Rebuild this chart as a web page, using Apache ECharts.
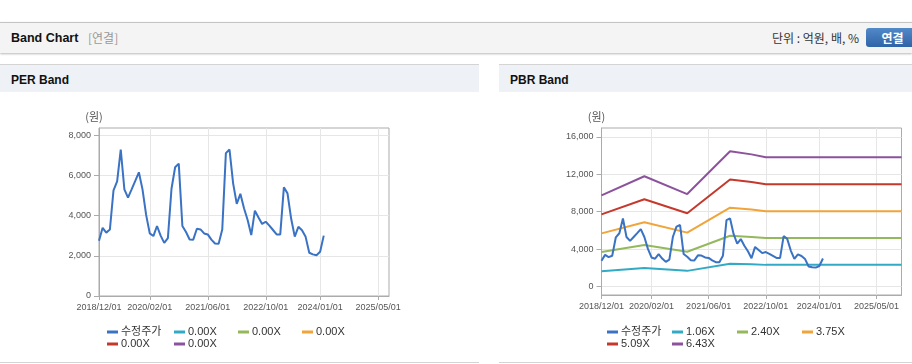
<!DOCTYPE html>
<html><head><meta charset="utf-8">
<script src="https://cdn.jsdelivr.net/npm/echarts@6/dist/echarts.min.js"></script>
<style>
html,body{margin:0;padding:0;width:912px;height:364px;overflow:hidden;background:#fff;font-family:"Liberation Sans","Noto Sans CJK KR",sans-serif;}
.abs{position:absolute;}
#topbar{left:0;top:22px;width:912px;height:30px;background:#f4f4f4;border-top:1px solid #c4c4c4;box-shadow:0 1px 2px rgba(0,0,0,0.28);}
#title{left:11px;top:0;line-height:30px;font-size:12.5px;font-weight:bold;color:#111;}
#sub{left:88px;top:0;line-height:30px;font-size:12px;color:#999;font-family:"Noto Sans CJK KR",sans-serif;}
#unit{right:53px;top:0;line-height:30px;font-size:12px;color:#333;font-family:"Noto Sans CJK KR",sans-serif;}
#btn{left:866px;top:5px;width:53px;height:19px;border-radius:3px;background:linear-gradient(#5289c9,#2f64a6);color:#fff;font-weight:bold;font-size:12px;line-height:19px;text-align:center;font-family:"Noto Sans CJK KR",sans-serif;}
.ph{top:64px;height:28px;background:#eef2f7;border-top:1px solid #d4d4d4;}
.ph span{position:absolute;left:11px;top:1px;line-height:28px;font-size:12px;font-weight:bold;color:#111;}
.pb{top:92px;height:270px;border-bottom:1px solid #d4d4d4;background:#fff;}
#chart{left:0;top:0;width:912px;height:364px;z-index:2;}
</style></head>
<body>
<div id="topbar" class="abs">
  <div id="title" class="abs">Band Chart</div>
  <div id="sub" class="abs">[연결]</div>
  <div id="unit" class="abs">단위 : 억원, 배, %</div>
  <div id="btn" class="abs">연결</div>
</div>
<div class="abs ph" style="left:0;width:479px;"><span>PER Band</span></div>
<div class="abs ph" style="left:499px;width:413px;"><span>PBR Band</span></div>
<div class="abs pb" style="left:0;width:479px;"></div>
<div class="abs pb" style="left:499px;width:413px;"></div>
<div id="chart" class="abs"></div>
<script>
// ---- data ----
const monthCount = 85;               // 2018/12 .. 2025/12
const perMonthCount = 81;            // 2018/12 .. 2025/08
const labelIndices = [0, 14, 30, 46, 61, 77];
const perTicks = [0, 2000, 4000, 6000, 8000];
const pbrTicks = [0, 4000, 8000, 12000, 16000];
// 수정주가, monthly from 2018/12/01
const priceValues = [2750,3390,3150,3300,5250,5700,7280,5300,4890,5300,
  5720,6150,5300,4030,3110,2980,3480,3000,2640,2880,
  5330,6400,6580,3480,3180,2810,2800,3340,3310,3110,
  3060,2800,2610,2600,3300,7100,7280,5600,4580,5080,
  4360,3780,3030,4240,3900,3580,3690,3500,3280,3060,
  3060,5400,5100,3850,2950,3440,3270,2940,2150,2070,
  2030,2200,3000];
const bandDates = ['2018/12/01','2019/12/01','2020/12/01','2021/12/01','2022/06/01','2022/10/01','2025/12/01'];
const band106 = [1650,1990,1680,2440,2380,2320,2320];
const band240 = [3700,4450,3720,5430,5300,5200,5200];
const band375 = [5690,6880,5770,8430,8240,8060,8060];
const band509 = [7720,9330,7830,11440,11180,10940,10940];
const band643 = [9750,11790,9890,14460,14130,13820,13820];
const perLabels = ['수정주가','0.00X','0.00X','0.00X','0.00X','0.00X'];
const pbrLabels = ['수정주가','1.06X','2.40X','3.75X','5.09X','6.43X'];
const colors = ['#3a72c4','#33aac4','#94b85c','#f0a43a','#c4392c','#8c539c'];

// ---- build ----
const months = [];
for (let i = 0; i < monthCount; i++) {
  const y = 2018 + Math.floor((11 + i) / 12);
  const m = (11 + i) % 12 + 1;
  months.push(y + '/' + String(m).padStart(2, '0') + '/01');
}
const perMonths = months.slice(0, perMonthCount);
const showIdx = (i) => labelIndices.indexOf(i) >= 0;
const axisGray = '#ababab';
const gridGray = '#e6e6e6';

function xAxis(gi, data) {
  return {
    type: 'category', gridIndex: gi, data: data, boundaryGap: false,
    axisLine: { onZero: false, lineStyle: { color: axisGray } },
    axisTick: { interval: showIdx, length: 4, lineStyle: { color: axisGray } },
    axisLabel: { interval: showIdx, fontSize: 9, color: '#555', margin: 7, fontFamily: 'Liberation Sans' },
    splitLine: { show: true, interval: showIdx, lineStyle: { color: gridGray } }
  };
}
function yAxis(gi, min, max, ticks) {
  return {
    type: 'value', gridIndex: gi, min: min, max: max,
    name: '(원)', nameLocation: 'end', nameGap: 6,
    nameTextStyle: { fontSize: 11, color: '#555', padding: [0, 10, 0, 0], fontFamily: 'Noto Sans CJK KR' },
    axisLine: { show: true, lineStyle: { color: axisGray } },
    axisTick: { show: true, length: 5, customValues: ticks, lineStyle: { color: axisGray } },
    axisLabel: { customValues: ticks, fontSize: 9, color: '#555', margin: 8, fontFamily: 'Liberation Sans' },
    splitLine: { show: true, lineStyle: { color: gridGray } }
  };
}
function lineSeries(id, xi, data, color) {
  return {
    type: 'line', name: id, xAxisIndex: xi, yAxisIndex: xi, data: data,
    showSymbol: false, symbol: 'none', connectNulls: true,
    lineStyle: { width: 2, color: color }, itemStyle: { color: color }, animation: false
  };
}
const bandArrays = [band106, band240, band375, band509, band643];
const series = [];
for (let k = 1; k <= 5; k++) series.push(lineSeries('per' + k, 0, [], colors[k]));
series.push(lineSeries('per0', 0, priceValues, colors[0]));
bandArrays.forEach((arr, j) => {
  series.push(lineSeries('pbr' + (j + 1), 1, bandDates.map((d, i) => [d, arr[i]]), colors[j + 1]));
});
series.push(lineSeries('pbr0', 1, priceValues, colors[0]));

const labelMap = {};
perLabels.forEach((t, i) => labelMap['per' + i] = t);
pbrLabels.forEach((t, i) => labelMap['pbr' + i] = t);

const legends = [];
const colX = [[107, 174, 238, 302], [607, 672, 737, 802]];
const rowY = [326, 338];
['per', 'pbr'].forEach((p, c) => {
  for (let i = 0; i < 6; i++) {
    legends.push({
      data: [p + i], left: colX[c][i % 4], top: rowY[Math.floor(i / 4)],
      icon: 'rect', itemWidth: 11, itemHeight: 3, itemGap: 0, padding: 0, selectedMode: false,
      formatter: (n) => labelMap[n],
      textStyle: { fontSize: 11, color: '#333', lineHeight: 12, padding: [0, 0, 0, -2], fontFamily: 'Liberation Sans, Noto Sans CJK KR' }
    });
  }
});

const chart = echarts.init(document.getElementById('chart'), null, { renderer: 'canvas' });
chart.setOption({
  animation: false,
  backgroundColor: 'transparent',
  grid: [
    { left: 99, top: 128, width: 290, height: 168, show: true, borderColor: axisGray, borderWidth: 1 },
    { left: 601.5, top: 128, width: 300, height: 167, show: true, borderColor: axisGray, borderWidth: 1 }
  ],
  xAxis: [xAxis(0, perMonths), xAxis(1, months)],
  yAxis: [yAxis(0, 0, 8350, perTicks), yAxis(1, -900, 16950, pbrTicks)],
  legend: legends,
  series: series
});
</script>
</body></html>
